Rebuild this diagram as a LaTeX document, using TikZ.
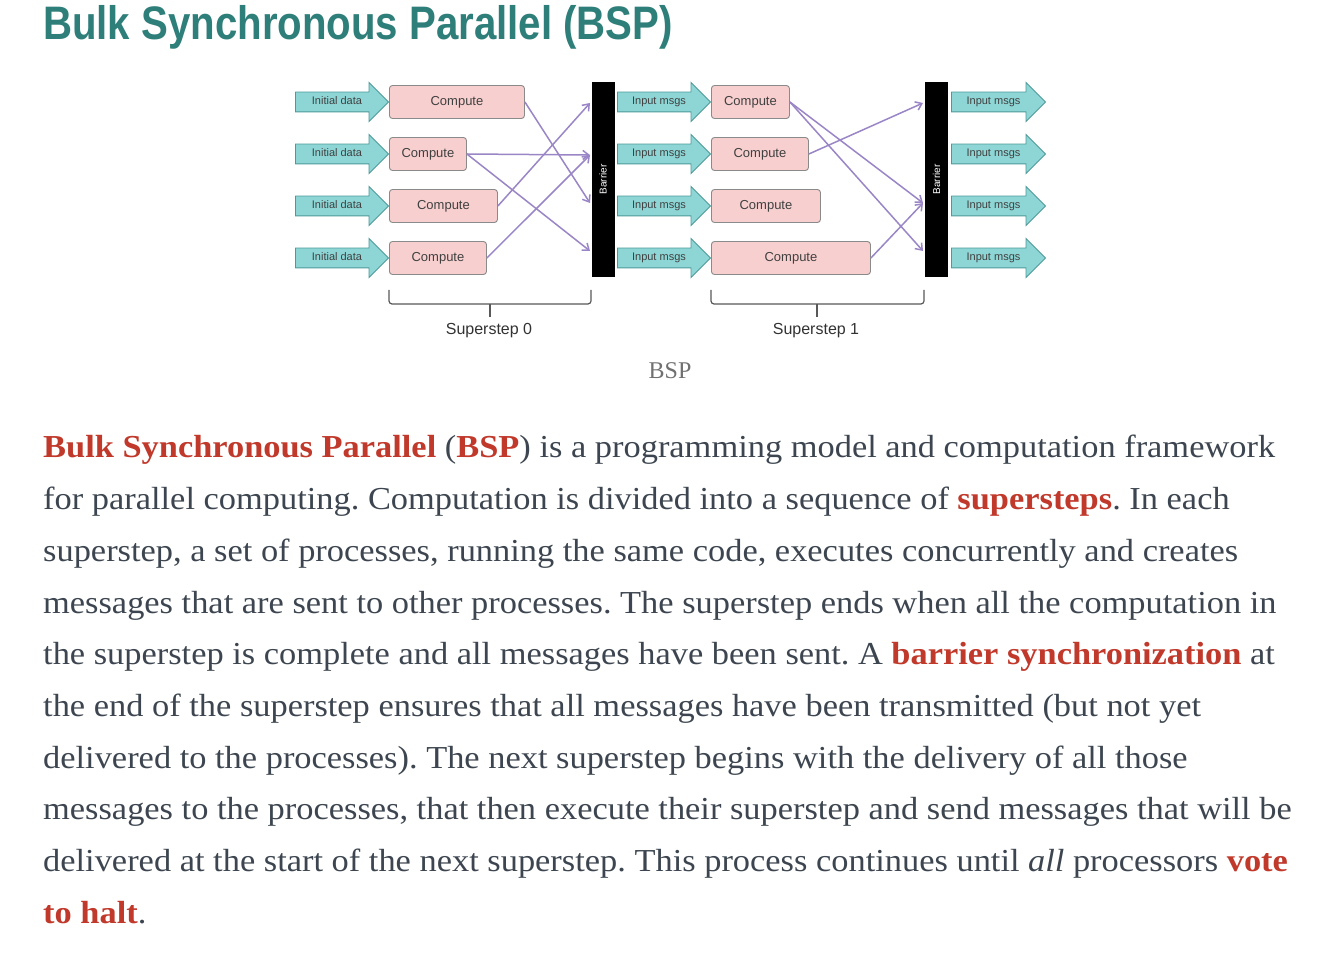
\documentclass[tikz,border=0pt]{standalone}
\usepackage{fontspec}
\setmainfont{Liberation Serif}
\setsansfont{Liberation Sans}
\newfontfamily\bodyfont[FakeStretch=1.075]{Liberation Serif}
\usepackage{graphicx}
\usepackage{xcolor}
\usepackage{tikz}
\usetikzlibrary{positioning, arrows.meta, shapes.arrows, calc}
\definecolor{titleteal}{HTML}{2E7E7A}
\definecolor{bodytext}{HTML}{3D4650}
\definecolor{hot}{HTML}{C0392B}
\definecolor{capgray}{HTML}{707070}
\definecolor{arrfill}{HTML}{8ED6D6}
\definecolor{arrline}{HTML}{4E9A9A}
\definecolor{boxfill}{HTML}{F8CFCF}
\definecolor{boxline}{HTML}{8A8A8A}
\definecolor{msg}{HTML}{9A86C6}

\newcommand{\hl}[1]{\textbf{\color{hot}#1}}
\frenchspacing

\begin{document}
\begin{tikzpicture}[x=1pt, y=-1pt, font=\sffamily,
    dataarrow/.style={single arrow, draw=arrline, fill=arrfill, line width=0.9pt,
      single arrow head extend=9.5pt, single arrow head indent=0pt,
      minimum height=93pt, inner xsep=2pt, inner ysep=4.5pt,
      text height=8pt, text depth=2pt, anchor=tail,
      font=\sffamily\fontsize{11}{11}\selectfont, text=black!75},
    compbox/.style={draw=boxline, fill=boxfill, line width=0.9pt, rounded corners=3pt,
      minimum height=33pt, anchor=west, inner sep=0pt,
      font=\sffamily\fontsize{13}{13}\selectfont, text=black!75},
    barrier/.style={fill=black, minimum width=23pt, minimum height=195pt, inner sep=0pt,
      font=\sffamily\fontsize{10}{10}\selectfont, text=white},
    sendmsg/.style={draw=msg, line width=1.5pt, -{Straight Barb[length=6pt, width=9pt]}},
    bracket/.style={draw=black!65, line width=1.2pt, rounded corners=3pt},
    bodyline/.style={anchor=base west, inner sep=0pt, text=bodytext,
      font=\bodyfont\fontsize{32}{32}\selectfont}]

  \useasboundingbox[fill=white] (0,0) rectangle (1334,965);

  % title
  \node[anchor=base west, inner sep=0pt, text=titleteal,
    font=\sffamily\bfseries\fontsize{47}{47}\selectfont] (title) at (43,40)
    {\scalebox{0.855}[1]{Bulk Synchronous Parallel (BSP)}};

  % superstep 0
  \foreach \r/\yy/\w in {1/102/135, 2/154/77, 3/206/108, 4/258/97} {
    \node[dataarrow] (init\r) at (295,\yy) {Initial data};
    \node[compbox, minimum width=\w pt] (ca\r) at (389,\yy) {Compute};
  }
  \node[barrier] (bar1) at (603,179.5) {\rotatebox{90}{Barrier}};

  % superstep 1
  \foreach \r/\yy/\w in {1/102/78, 2/154/97, 3/206/109, 4/258/159} {
    \node[dataarrow] (inmsg\r) at (617,\yy) {Input msgs};
    \node[compbox, minimum width=\w pt] (cb\r) at (711,\yy) {Compute};
  }
  \node[barrier] (bar2) at (936.5,179.5) {\rotatebox{90}{Barrier}};

  \foreach \r/\yy in {1/102, 2/154, 3/206, 4/258}
    \node[dataarrow, minimum height=94pt] (outmsg\r) at (951,\yy) {Input msgs};

  % where the messages hit the barriers
  \foreach \r/\yy in {1/103, 2/155, 3/203, 4/251} {
    \coordinate (hit1-\r) at (590,\yy);
    \coordinate (hit2-\r) at (923,\yy);
  }

  \draw[sendmsg] (ca1.east) -- (hit1-3);
  \draw[sendmsg] (ca2.east) -- (hit1-2);
  \draw[sendmsg] (ca2.east) -- (hit1-4);
  \draw[sendmsg] (ca3.east) -- (hit1-1);
  \draw[sendmsg] (ca4.east) -- (hit1-2);

  \draw[sendmsg] (cb1.east) -- (hit2-3);
  \draw[sendmsg] (cb1.east) -- (hit2-4);
  \draw[sendmsg] (cb2.east) -- (hit2-1);
  \draw[sendmsg] (cb4.east) -- (hit2-3);

  % brackets
  \draw[bracket] (389,290) |- (490,304) -| (591,290);
  \draw[bracket] (490,304) -- (490,317);
  \draw[bracket] (711,290) |- (817,304) -| (924,290);
  \draw[bracket] (817,304) -- (817,317);
  \node[font=\sffamily\fontsize{16}{16}\selectfont, text=black!80] (step0) at (489,331) {Superstep 0};
  \node[font=\sffamily\fontsize{16}{16}\selectfont, text=black!80] (step1) at (816,331) {Superstep 1};

  \node[font=\rmfamily\fontsize{24}{24}\selectfont, text=capgray] (caption) at (670,371) {BSP};

  % body text
  \node[bodyline] (l1) at (43,458) {\hl{Bulk Synchronous Parallel} (\hl{BSP}) is a programming model and computation framework};
  \node[bodyline] (l2) at (43,509.7) {for parallel computing. Computation is divided into a sequence of \hl{supersteps}. In each};
  \node[bodyline] (l3) at (43,561.3) {superstep, a set of processes, running the same code, executes concurrently and creates};
  \node[bodyline] (l4) at (43,613) {messages that are sent to other processes. The superstep ends when all the computation in};
  \node[bodyline] (l5) at (43,664.7) {the superstep is complete and all messages have been sent. A \hl{barrier synchronization} at};
  \node[bodyline] (l6) at (43,716.3) {the end of the superstep ensures that all messages have been transmitted (but not yet};
  \node[bodyline] (l7) at (43,768) {delivered to the processes). The next superstep begins with the delivery of all those};
  \node[bodyline] (l8) at (43,819.7) {messages to the processes, that then execute their superstep and send messages that will be};
  \node[bodyline] (l9) at (43,871.3) {delivered at the start of the next superstep. This process continues until \textit{all} processors \hl{vote}};
  \node[bodyline] (l10) at (43,923) {\hl{to halt}.};
\end{tikzpicture}
\end{document}
